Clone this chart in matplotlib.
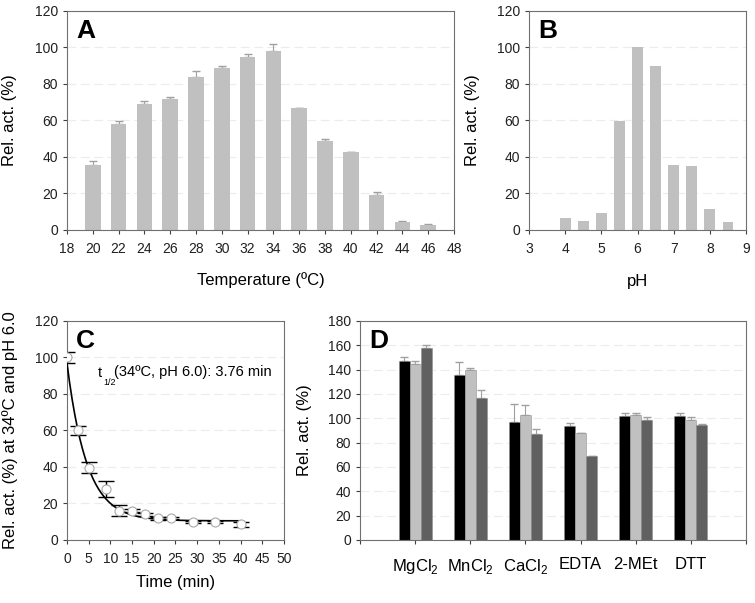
import numpy as np
import matplotlib
matplotlib.use('Agg')
import matplotlib.pyplot as plt

plt.rcParams['font.family'] = ['Liberation Sans', 'DejaVu Sans']
plt.rcParams['mathtext.fontset'] = 'custom'
plt.rcParams['mathtext.rm'] = 'Liberation Sans'

# A: temperature
temp = [20, 22, 24, 26, 28, 30, 32, 34, 36, 38, 40, 42, 44, 46]
temp_act = [35.8, 58, 69.3, 72, 83.6, 89, 94.6, 97.9, 66.8, 48.7, 42.8, 19.4, 4.6, 2.9]
temp_err = [1.8, 1.8, 1.1, 1.0, 3.3, 0.6, 1.6, 4.0, 0.3, 0.9, 0.2, 1.5, 0.2, 0.2]

# B: pH
ph = [4, 4.5, 5, 5.5, 6, 6.5, 7, 7.5, 8, 8.5]
ph_act = [6.5, 5, 9.5, 59.5, 100, 90, 35.5, 35, 11.5, 4.5]

# C: stability over time
time_min = [0, 2.5, 5, 9, 12, 15, 18, 21, 24, 29, 34, 40]
stab = [100, 60, 39.5, 28, 16, 16, 14, 12, 12, 10, 10, 8.5]
stab_err = [3, 2.5, 3, 4.3, 3, 0.8, 0.8, 0.8, 0.6, 0.6, 0.6, 1.2]
fit_plateau = 10.5
fit_span = 86.5
fit_rate = 0.22

# D: effectors
effectors = [r'MgCl$_\mathregular{2}$', r'MnCl$_\mathregular{2}$', r'CaCl$_\mathregular{2}$',
             'EDTA', '2-MEt', 'DTT']
eff_black = [147, 136, 97, 93.4, 102.2, 101.6]
eff_light = [145, 139.3, 102.5, 88, 102.5, 99]
eff_dark = [157.4, 117, 86.8, 68.7, 98.4, 94.2]
err_black = [3.5, 10.4, 15, 2.6, 1.8, 3.1]
err_light = [2, 1.7, 8.5, 0, 1.5, 2]
err_dark = [2.6, 6.6, 4.2, 0.5, 2.6, 1.4]

fig = plt.figure(figsize=(7.55, 6.03), dpi=100)
axA = fig.add_axes([0.0887, 0.6186, 0.5126, 0.3632])
axB = fig.add_axes([0.7007, 0.6186, 0.2874, 0.3632])
axC = fig.add_axes([0.0887, 0.1045, 0.2874, 0.3632])
axD = fig.add_axes([0.4768, 0.1045, 0.5113, 0.3632])

tick_fs = 10
lab_fs = 12


def style(ax, letter):
    for s in ax.spines.values():
        s.set_color('#707070')
        s.set_linewidth(0.8)
    ax.yaxis.grid(True, color='#ececec', linestyle=(0, (8, 4)), linewidth=0.8)
    ax.set_axisbelow(True)
    ax.tick_params(direction='out', length=3, width=0.8, color='#404040',
                   labelsize=tick_fs, labelcolor='#202020')
    ax.tick_params(axis='x', pad=6)
    ax.annotate(letter, xy=(0, 1), xycoords='axes fraction', xytext=(6.5, -5.5),
                textcoords='offset points', ha='left', va='top',
                fontsize=19, fontweight='bold')


# A
axA.errorbar(temp, temp_act, yerr=[np.zeros(len(temp)), temp_err], fmt='none',
             ecolor='#a0a0a0', elinewidth=0.8, capsize=3, zorder=1)
axA.bar(temp, temp_act, width=1.2, color='#c0c0c0', zorder=2)
axA.set_xlim(18, 48)
axA.set_ylim(0, 120)
axA.set_xticks(range(18, 49, 2))
axA.set_yticks(range(0, 121, 20))
axA.set_ylabel('Rel. act. (%)', fontsize=lab_fs)
axA.set_xlabel('Temperature (ºC)', fontsize=lab_fs)
axA.yaxis.set_label_coords(-0.129, 0.5)
axA.xaxis.set_label_coords(0.5, -0.23)
axA.xaxis.label.set_va('center')
style(axA, 'A')

# B
axB.bar(ph, ph_act, width=0.3, color='#c0c0c0', zorder=2)
axB.set_xlim(3, 9)
axB.set_ylim(0, 120)
axB.set_xticks(range(3, 10))
axB.set_yticks(range(0, 121, 20))
axB.set_ylabel('Rel. act. (%)', fontsize=lab_fs)
axB.set_xlabel('pH', fontsize=lab_fs)
axB.yaxis.set_label_coords(-0.226, 0.5)
axB.xaxis.set_label_coords(0.5, -0.233)
axB.xaxis.label.set_va('center')
style(axB, 'B')

# C
tt = np.linspace(0, 40, 200)
axC.plot(tt, fit_plateau + fit_span * np.exp(-fit_rate * tt), color='black',
         linewidth=1.2, zorder=3)
axC.errorbar(time_min, stab, yerr=stab_err, fmt='none', ecolor='black',
             elinewidth=1.0, capsize=6, capthick=1.0, zorder=2)
axC.plot(time_min, stab, 'o', markersize=6.5, markerfacecolor='white',
         markeredgecolor='#a8a8a8', markeredgewidth=0.8, zorder=4)
axC.set_xlim(0, 50)
axC.set_ylim(0, 120)
axC.set_xticks(range(0, 51, 5))
axC.set_yticks(range(0, 121, 20))
axC.set_ylabel('Rel. act. (%) at 34ºC and pH 6.0', fontsize=lab_fs)
axC.set_xlabel('Time (min)', fontsize=lab_fs)
axC.yaxis.set_label_coords(-0.226, 0.5)
axC.xaxis.set_label_coords(0.5, -0.192)
axC.xaxis.label.set_va('center')
axC.text(7.2, 91.5, 't', fontsize=10.5, ha='left', va='center')
axC.text(8.4, 86.5, '1/2', fontsize=6.5, ha='left', va='center')
axC.text(10.8, 92, '(34ºC, pH 6.0): 3.76 min', fontsize=10.5, ha='left', va='center')
style(axC, 'C')

# D
pos = np.arange(1, len(effectors) + 1)
w = 0.2
for off, vals, errs, col in [(-w, eff_black, err_black, '#000000'),
                             (0, eff_light, err_light, '#c0c0c0'),
                             (w, eff_dark, err_dark, '#606060')]:
    axD.errorbar(pos + off, vals, yerr=[np.zeros(len(vals)), errs], fmt='none',
                 ecolor='#a0a0a0', elinewidth=0.8, capsize=3, zorder=1)
    axD.bar(pos + off, vals, width=w, color=col, edgecolor='#909090',
            linewidth=0.4, zorder=2)
axD.set_xlim(0, 7)
axD.set_ylim(0, 180)
axD.set_xticks(range(0, 8))
axD.set_xticklabels([''] + effectors + [''])
axD.set_yticks(range(0, 181, 20))
axD.set_ylabel('Rel. act. (%)', fontsize=lab_fs)
axD.yaxis.set_label_coords(-0.124, 0.5)
style(axD, 'D')
axD.tick_params(axis='x', labelsize=lab_fs, pad=9, labelcolor='black')

fig.savefig('out.png', dpi=100)
